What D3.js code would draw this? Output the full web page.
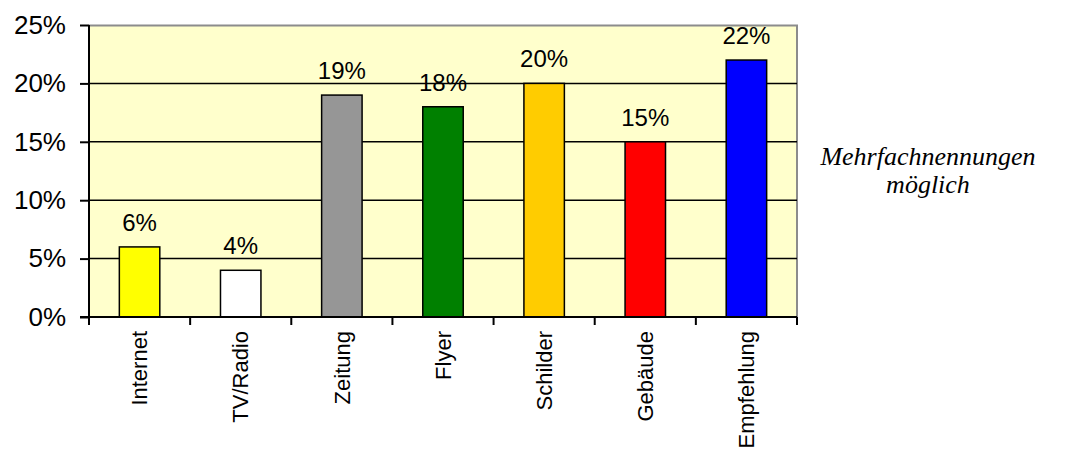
<!DOCTYPE html>
<html>
<head>
<meta charset="utf-8">
<script src="https://cdn.jsdelivr.net/npm/d3@7"></script>
<style>
  body { margin: 0; background: #fff; }
  svg { display: block; }
</style>
</head>
<body>
<script>
// Chart data
var categories = ["Internet", "TV/Radio", "Zeitung", "Flyer", "Schilder", "Gebäude", "Empfehlung"];
var values = [6, 4, 19, 18, 20, 15, 22];
var barColors = ["#ffff00", "#ffffff", "#969696", "#008000", "#ffcc00", "#ff0000", "#0000ff"];
var yTicks = [0, 5, 10, 15, 20, 25];
var noteLines = ["Mehrfachnennungen", "möglich"];

var svgWidth = 1069;
var svgHeight = 453;

var chartMargin = {
  top: 25,
  right: 272,
  bottom: 136,
  left: 89
};

var chartWidth = svgWidth - chartMargin.left - chartMargin.right;
var chartHeight = svgHeight - chartMargin.top - chartMargin.bottom;

var svg = d3.select("body")
  .append("svg")
  .attr("width", svgWidth)
  .attr("height", svgHeight);

var chartGroup = svg.append("g")
  .attr("transform", `translate(${chartMargin.left}, ${chartMargin.top})`);

var xBandScale = d3.scaleBand()
  .domain(categories)
  .range([0, chartWidth])
  .paddingInner(0.6)
  .paddingOuter(0.3);

var yLinearScale = d3.scaleLinear()
  .domain([0, 25])
  .range([chartHeight, 0]);

// plot background
chartGroup.append("rect")
  .attr("width", chartWidth)
  .attr("height", chartHeight)
  .attr("fill", "#ffffcc");

// grey frame on top and right
chartGroup.append("path")
  .attr("d", `M0,0.5H${chartWidth}V${chartHeight}`)
  .attr("fill", "none")
  .attr("stroke", "#8c8c8c")
  .attr("stroke-width", 2);

// gridlines
chartGroup.selectAll(".grid")
  .data(yTicks.filter(t => t > 0 && t < 25))
  .enter()
  .append("line")
  .attr("x1", 0)
  .attr("x2", chartWidth)
  .attr("y1", d => yLinearScale(d))
  .attr("y2", d => yLinearScale(d))
  .attr("stroke", "#000")
  .attr("stroke-width", 1.5);

// bars
chartGroup.selectAll(".bar")
  .data(values)
  .enter()
  .append("rect")
  .attr("class", "bar")
  .attr("x", (d, i) => xBandScale(categories[i]))
  .attr("y", d => yLinearScale(d))
  .attr("width", xBandScale.bandwidth())
  .attr("height", d => chartHeight - yLinearScale(d))
  .attr("fill", (d, i) => barColors[i])
  .attr("stroke", "#000")
  .attr("stroke-width", 1.5);

// value labels
chartGroup.selectAll(".vlabel")
  .data(values)
  .enter()
  .append("text")
  .attr("x", (d, i) => xBandScale(categories[i]) + xBandScale.bandwidth() / 2)
  .attr("y", d => yLinearScale(d) - 16)
  .attr("text-anchor", "middle")
  .style("font-family", "Liberation Sans, Arial, sans-serif")
  .style("font-size", "24px")
  .text(d => d + "%");

// left axis
var leftAxis = d3.axisLeft(yLinearScale)
  .tickValues(yTicks)
  .tickFormat(d => d + "%")
  .tickSize(9)
  .tickPadding(14);

var yAxisG = chartGroup.append("g").call(leftAxis);
yAxisG.select(".domain").attr("d", `M0,0V${chartHeight}`).attr("stroke-width", 2);
yAxisG.selectAll(".tick line").attr("stroke-width", 2);
yAxisG.selectAll("text")
  .style("font-family", "Liberation Sans, Arial, sans-serif")
  .style("font-size", "26px")
  .attr("fill", "#000");

// bottom axis: ticks at band boundaries
var step = chartWidth / categories.length;
var xAxisG = chartGroup.append("g")
  .attr("transform", `translate(0, ${chartHeight})`);

xAxisG.append("line")
  .attr("x1", -9)
  .attr("x2", chartWidth)
  .attr("stroke", "#000")
  .attr("stroke-width", 2);

xAxisG.selectAll(".xtick")
  .data(d3.range(categories.length + 1))
  .enter()
  .append("line")
  .attr("x1", d => d * step)
  .attr("x2", d => d * step)
  .attr("y1", 0)
  .attr("y2", 8)
  .attr("stroke", "#000")
  .attr("stroke-width", 2);

xAxisG.selectAll(".xlabel")
  .data(categories)
  .enter()
  .append("text")
  .attr("transform", d => `translate(${xBandScale(d) + xBandScale.bandwidth() / 2}, 14) rotate(-90)`)
  .attr("dy", "0.35em")
  .attr("text-anchor", "end")
  .style("font-family", "Liberation Sans, Arial, sans-serif")
  .style("font-size", "22px")
  .text(d => d);

// note on the right
svg.append("text")
  .attr("x", 928)
  .attr("y", 165)
  .attr("text-anchor", "middle")
  .style("font-family", "Liberation Serif, Times New Roman, serif")
  .style("font-style", "italic")
  .style("font-size", "26px")
  .selectAll("tspan")
  .data(noteLines)
  .enter()
  .append("tspan")
  .attr("x", 928)
  .attr("dy", (d, i) => i === 0 ? 0 : 28)
  .text(d => d);
</script>
</body>
</html>
